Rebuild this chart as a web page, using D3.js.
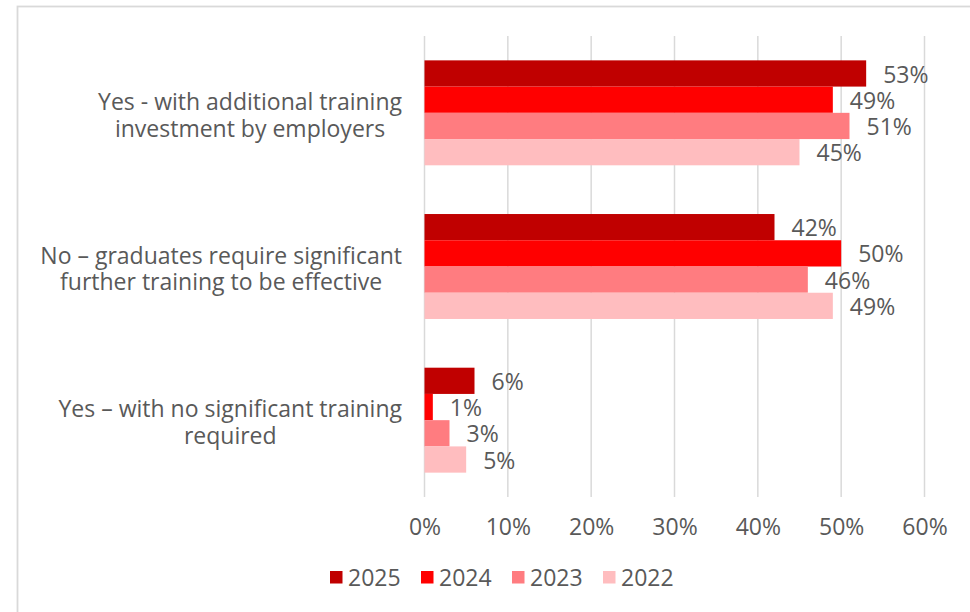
<!DOCTYPE html>
<html>
<head>
<meta charset="utf-8">
<script src="https://cdn.jsdelivr.net/npm/d3@7"></script>
<style>
  html, body { margin: 0; padding: 0; background: #fff; }
  svg { display: block; }
  text { font-family: "Open Sans", "Noto Sans", sans-serif; fill: #595959; }
</style>
</head>
<body>
<svg id="chart" width="970" height="612"></svg>
<script>
// Survey answers (top to bottom) and the yearly shares for each
const categories = [
  ["Yes - with additional training", "investment by employers"],
  ["No \u2013 graduates require significant", "further training to be effective"],
  ["Yes \u2013 with no significant training", "required"]
];
const years = ["2025", "2024", "2023", "2022"];
const values2025 = [0.53, 0.42, 0.06];
const values2024 = [0.49, 0.50, 0.01];
const values2023 = [0.51, 0.46, 0.03];
const values2022 = [0.45, 0.49, 0.05];
const xTicks = [0, 0.1, 0.2, 0.3, 0.4, 0.5, 0.6];
const colors = ["#C00000", "#FF0000", "#FF7C80", "#FFBDBF"];

const seriesValues = [values2025, values2024, values2023, values2022];
const catKeys = categories.map((c, i) => "c" + i);

const svg = d3.select("#chart");
const fontSize = 23;

// Outer chart frame
svg.append("rect")
  .attr("x", 17.5).attr("y", 6.5)
  .attr("width", 1000).attr("height", 700)
  .attr("fill", "none")
  .attr("stroke", "#d9d9d9")
  .attr("stroke-width", 1.8);

const plot = { left: 424.5, right: 924.5, top: 36, bottom: 497 };

const x = d3.scaleLinear().domain([0, 0.6]).range([plot.left, plot.right]);
const y = d3.scaleBand().domain(catKeys)
  .range([plot.top, plot.bottom])
  .paddingInner(0.317).paddingOuter(0.1585);
const yInner = d3.scaleBand().domain(years).range([0, y.bandwidth()]);
const color = d3.scaleOrdinal().domain(years).range(colors);

// Vertical gridlines
svg.append("g").selectAll("line")
  .data(xTicks).join("line")
  .attr("x1", d => x(d)).attr("x2", d => x(d))
  .attr("y1", plot.top).attr("y2", plot.bottom)
  .attr("stroke", "#d9d9d9").attr("stroke-width", 1.5);

// X axis tick labels
const xAxis = d3.axisBottom(x).tickValues(xTicks)
  .tickFormat(d3.format(".0%")).tickSize(0).tickPadding(0);
const gx = svg.append("g")
  .attr("transform", `translate(0,${plot.bottom})`)
  .call(xAxis);
gx.select(".domain").remove();
gx.selectAll("text")
  .attr("y", 30).attr("dy", "0.35em")
  .style("font-size", fontSize + "px")
  .attr("font-family", null)
  .attr("fill", "#595959");

// Bars grouped by answer
const groups = svg.append("g").selectAll("g")
  .data(catKeys).join("g")
  .attr("transform", k => `translate(0,${y(k)})`);

groups.each(function(k, ci) {
  const g = d3.select(this);
  const rows = years.map((yr, si) => ({ yr, v: seriesValues[si][ci] }));
  g.selectAll("rect").data(rows).join("rect")
    .attr("x", x(0))
    .attr("y", d => yInner(d.yr))
    .attr("width", d => x(d.v) - x(0))
    .attr("height", yInner.bandwidth())
    .attr("fill", d => color(d.yr));
  g.selectAll("text.val").data(rows).join("text")
    .attr("class", "val")
    .attr("x", d => x(d.v) + 17)
    .attr("y", d => yInner(d.yr) + yInner.bandwidth() / 2 + 1)
    .attr("dy", "0.35em")
    .style("font-size", fontSize + "px")
    .text(d => d3.format(".0%")(d.v));
});

// Category labels: a right-aligned block whose lines are centred on each other
const lineGap = 26.5;
const labelRight = 402;
const catLabels = svg.append("g").selectAll("text")
  .data(categories).join("text")
  .attr("text-anchor", "middle")
  .style("font-size", fontSize + "px")
  .attr("transform", (d, i) => `translate(0,${y(catKeys[i]) + y.bandwidth() / 2 + 2.5})`);
catLabels.each(function(lines) {
  const t = d3.select(this);
  const spans = t.selectAll("tspan").data(lines).join("tspan")
    .attr("y", (l, j) => (j - (lines.length - 1) / 2) * lineGap)
    .attr("dy", "0.35em")
    .text(l => l);
  const maxW = d3.max(spans.nodes(), n => n.getComputedTextLength());
  spans.attr("x", labelRight - maxW / 2);
});

// Legend
const legend = svg.append("g").selectAll("g")
  .data(years).join("g")
  .attr("transform", (d, i) => `translate(${330 + i * 91},577.5)`);
legend.append("rect")
  .attr("x", 0).attr("y", -6.5)
  .attr("width", 12.5).attr("height", 12.5)
  .attr("fill", d => color(d));
legend.append("text")
  .attr("x", 18).attr("y", 0).attr("dy", "0.35em")
  .style("font-size", fontSize + "px")
  .text(d => d);
</script>
</body>
</html>
